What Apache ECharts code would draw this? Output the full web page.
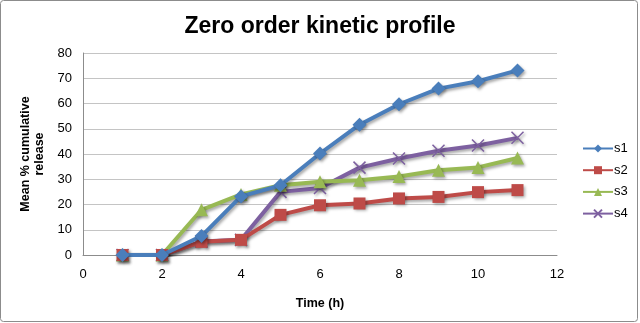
<!DOCTYPE html>
<html>
<head>
<meta charset="utf-8">
<style>
  html, body { margin: 0; padding: 0; background: #fff; }
  #chart { width: 640px; height: 323px; }
</style>
<script src="https://cdn.jsdelivr.net/npm/echarts@6/dist/echarts.min.js"></script>
</head>
<body>
<div id="chart"></div>
<script>
// Sampling times (h)
const times = [1, 2, 3, 4, 5, 6, 7, 8, 9, 10, 11];
// Mean % cumulative release per formulation
const s1 = [0, 0, 7.5, 23.2, 27.6, 40.2, 51.6, 59.7, 65.9, 68.8, 73.1];
const s2 = [0, 0, 5.2, 6.0, 15.9, 19.7, 20.4, 22.4, 23.0, 24.9, 25.7];
const s3 = [0, 0, 17.9, 24.0, 27.6, 29.0, 29.6, 31.1, 33.6, 34.7, 38.4];
const s4 = [0, 0, 5.3, 6.0, 25.0, 26.5, 34.6, 38.2, 41.3, 43.4, 46.4];
const seriesNames = ['s1', 's2', 's3', 's4'];
const xTicks = { min: 0, max: 12, interval: 2 };
const yTicks = { min: 0, max: 80, interval: 10 };

const colors = ['#4a7ebb', '#be4b48', '#98b954', '#7d60a0'];
const symbols = ['diamond', 'rect', 'triangle', 'path://M0,0L10,10M10,0L0,10'];
const sizes = [14, 12, 13, 12];
const values = [s1, s2, s3, s4];
const font = 'Liberation Sans, Arial, sans-serif';

const shadow = {
  shadowColor: 'rgba(0,0,0,0.35)',
  shadowBlur: 3,
  shadowOffsetX: 1.5,
  shadowOffsetY: 2
};

const series = seriesNames.map((name, i) => ({
  name: name,
  type: 'line',
  data: times.map((t, k) => [t, values[i][k]]),
  symbol: symbols[i],
  symbolSize: sizes[i],
  showSymbol: true,
  z: 10 - i,
  lineStyle: Object.assign({ color: colors[i], width: 4 }, shadow),
  itemStyle: Object.assign({
    color: i === 3 ? 'rgba(0,0,0,0)' : colors[i],
    borderColor: colors[i],
    borderWidth: i === 3 ? 1.5 : 0
  }, shadow),
  emphasis: { disabled: true },
  animation: false
}));

const chart = echarts.init(document.getElementById('chart'), null, { renderer: 'canvas' });
chart.setOption({
  backgroundColor: '#fff',
  animation: false,
  graphic: [{
    type: 'rect',
    shape: { x: 0.5, y: 0.5, width: 637, height: 321, r: 3 },
    style: { fill: 'none', stroke: '#8c8c8c', lineWidth: 1 },
    silent: true
  }],
  title: {
    text: 'Zero order kinetic profile',
    left: 'center',
    top: 10,
    textStyle: { fontFamily: font, fontSize: 23, fontWeight: 'bold', color: '#000' }
  },
  legend: {
    orient: 'vertical',
    left: 577,
    top: 137,
    itemWidth: 30,
    itemHeight: 10,
    itemGap: 8.7,
    data: seriesNames,
    textStyle: { fontFamily: font, fontSize: 13, color: '#000', padding: [0, 0, 0, -4] }
  },
  grid: { left: 83, right: 83, top: 53, bottom: 68, containLabel: false },
  xAxis: {
    type: 'value',
    min: xTicks.min, max: xTicks.max, interval: xTicks.interval,
    name: 'Time (h)',
    nameLocation: 'middle',
    nameGap: 42,
    nameTextStyle: { fontFamily: font, fontSize: 12.5, fontWeight: 'bold', color: '#000' },
    axisLine: { show: true, lineStyle: { color: '#8c8c8c', width: 1 } },
    axisTick: { show: false },
    splitLine: { show: false },
    axisLabel: { fontFamily: font, fontSize: 13, color: '#000', margin: 13 }
  },
  yAxis: {
    type: 'value',
    min: yTicks.min, max: yTicks.max, interval: yTicks.interval,
    name: 'Mean % cumulative\nrelease',
    nameLocation: 'middle',
    nameGap: 33,
    nameRotate: 90,
    nameTextStyle: { fontFamily: font, fontSize: 12.5, fontWeight: 'bold', color: '#000', lineHeight: 14 },
    axisLine: { show: true, lineStyle: { color: '#8c8c8c', width: 1 } },
    axisTick: { show: false },
    splitLine: { show: true, lineStyle: { color: '#c4c4c4', width: 1 } },
    axisLabel: { fontFamily: font, fontSize: 13, color: '#000', margin: 11 }
  },
  series: series
});
</script>
</body>
</html>
